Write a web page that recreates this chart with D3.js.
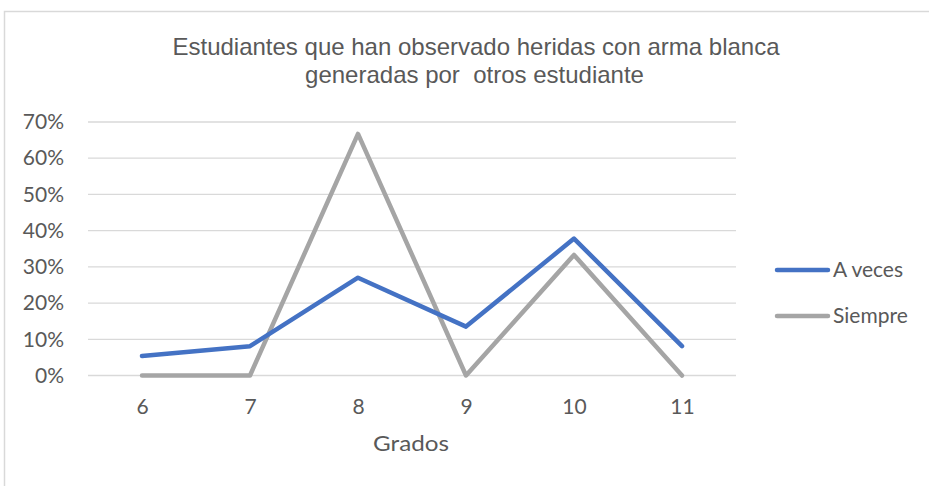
<!DOCTYPE html>
<html>
<head>
<meta charset="utf-8">
<script src="https://cdn.jsdelivr.net/npm/d3@7"></script>
<style>
  body { margin: 0; background: #fff; }
</style>
</head>
<body>
<div id="canvas"></div>
<script>
"use strict"

/* chart data */
let grados = ["6", "7", "8", "9", "10", "11"];
let aVeces = [0.054, 0.081, 0.27, 0.135, 0.378, 0.081];
let siempre = [0, 0, 0.667, 0, 0.333, 0];
let yTicks = [0, 0.1, 0.2, 0.3, 0.4, 0.5, 0.6, 0.7];

let drawing = d3.select("#canvas")
    .append("svg")
    .attr("width", 929)
    .attr("height", 486);

/* chart area border (only top and left visible) */
drawing.append("path")
    .attr("d", "M4.5,486 L4.5,11.5 L929,11.5")
    .attr("fill", "none")
    .attr("stroke", "#d9d9d9")
    .attr("stroke-width", 1.5);

let x = d3.scalePoint()
    .domain(grados)
    .range([88, 736])
    .padding(0.5);

let y = d3.scaleLinear()
    .domain([0, 0.7])
    .range([375.5, 122]);

/* gridlines */
let grid = drawing.append("g")
    .attr("class", "grid");
grid.selectAll("line")
    .data(yTicks)
    .join("line")
    .attr("x1", 88)
    .attr("x2", 736)
    .attr("y1", d => y(d))
    .attr("y2", d => y(d))
    .attr("stroke", "#d9d9d9")
    .attr("stroke-width", 1.3);

/* y axis labels */
let yAxis = drawing.append("g")
    .attr("transform", "translate(64,0)")
    .call(d3.axisLeft(y).tickValues(yTicks).tickFormat(d3.format(".0%")).tickSize(0).tickPadding(0));
yAxis.select(".domain").remove();
yAxis.selectAll("text")
    .attr("font-family", "Lato, 'Open Sans', sans-serif")
    .attr("font-size", 21)
    .attr("fill", "#595959");

/* x axis labels */
let xAxis = drawing.append("g")
    .attr("transform", "translate(0,399)")
    .call(d3.axisBottom(x).tickSize(0).tickPadding(0));
xAxis.select(".domain").remove();
xAxis.selectAll("text")
    .attr("font-family", "Lato, 'Open Sans', sans-serif")
    .attr("font-size", 21)
    .attr("fill", "#595959");

/* series lines */
let line = d3.line()
    .x((d, i) => x(grados[i]))
    .y(d => y(d));

drawing.append("path")
    .datum(siempre)
    .attr("d", line)
    .attr("fill", "none")
    .attr("stroke", "#a5a5a5")
    .attr("stroke-width", 4.5)
    .attr("stroke-linejoin", "round")
    .attr("stroke-linecap", "round");

drawing.append("path")
    .datum(aVeces)
    .attr("d", line)
    .attr("fill", "none")
    .attr("stroke", "#4472c4")
    .attr("stroke-width", 4.5)
    .attr("stroke-linejoin", "round")
    .attr("stroke-linecap", "round");

/* title */
let title = drawing.append("text")
    .attr("text-anchor", "middle")
    .attr("font-family", "'Liberation Sans', Arial, sans-serif")
    .attr("font-size", 24)
    .attr("fill", "#595959")
    .style("white-space", "pre");
title.append("tspan")
    .attr("x", 476).attr("y", 55)
    .text("Estudiantes que han observado heridas con arma blanca");
title.append("tspan")
    .attr("x", 474.5).attr("y", 82.5)
    .text("generadas por  otros estudiante");

/* axis title */
drawing.append("text")
    .attr("x", 411)
    .attr("y", 451)
    .attr("text-anchor", "middle")
    .attr("font-family", "Lato, 'Open Sans', sans-serif")
    .attr("font-size", 22)
    .attr("textLength", 76)
    .attr("lengthAdjust", "spacingAndGlyphs")
    .attr("fill", "#595959")
    .text("Grados");

/* legend */
let legendItems = [
    { name: "A veces", color: "#4472c4" },
    { name: "Siempre", color: "#a5a5a5" }
];
let legend = drawing.append("g")
    .selectAll("g")
    .data(legendItems)
    .join("g")
    .attr("transform", (d, i) => "translate(777," + (270 + i * 46) + ")");
legend.append("line")
    .attr("x1", 0)
    .attr("x2", 51)
    .attr("stroke", d => d.color)
    .attr("stroke-width", 4.5)
    .attr("stroke-linecap", "round");
legend.append("text")
    .attr("x", 56)
    .attr("dy", "0.35em")
    .attr("font-family", "Lato, 'Open Sans', sans-serif")
    .attr("font-size", 21)
    .attr("fill", "#595959")
    .text(d => d.name);
</script>
</body>
</html>
